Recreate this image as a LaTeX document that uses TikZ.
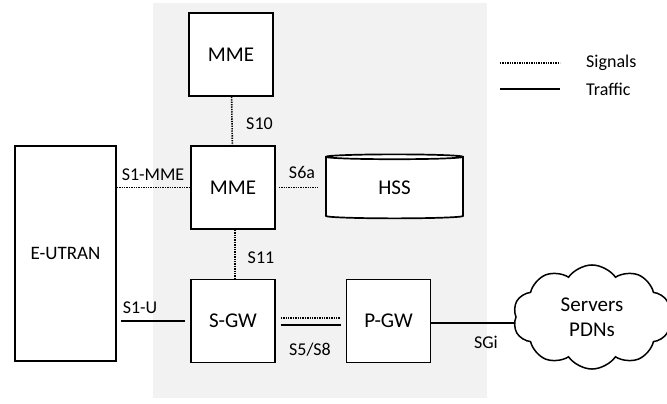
\documentclass[tikz,border=0pt]{standalone}
\usepackage{fontspec}
\setmainfont{Carlito}
\usepackage{tikz}
\usetikzlibrary{
positioning,
shapes.geometric,
shapes.symbols,
}
\definecolor{corebg}{RGB}{242,242,242}
\tikzset{
x=1pt, y=-1pt,
every node/.style={align=center, inner sep=0pt},
entity/.style={rectangle, draw, line width=1.7pt, fill=white,
  minimum width=84, minimum height=83, font=\fontsize{21}{25}\selectfont},
database/.style={cylinder, shape border rotate=90, aspect=0.15, draw,
  line width=1.7pt, fill=white, minimum width=137, minimum height=64,
  font=\fontsize{21}{25}\selectfont},
network/.style={cloud, cloud puffs=10, cloud puff arc=110, cloud ignores aspect, draw,
  line width=1.5pt, fill=white, minimum width=158, minimum height=100,
  inner ysep=14pt, font=\fontsize{21}{25}\selectfont},
iflabel/.style={font=\fontsize{18}{21}\selectfont},
signal/.style={line width=1.6pt, dash pattern=on 1.3pt off 1.1pt},
traffic/.style={line width=1.5pt},
}

\begin{document}
\begin{tikzpicture}
    \useasboundingbox (0,0) rectangle (667,404);
    % EPC core area
    \fill [corebg] (153,3) rectangle (487,398);

    \node [entity] (mmeTop) at (231,54.5) {MME};
    \node [entity] (mme) at (233,187.5) {MME};
    \node [entity] (sgw) at (233,321) {S-GW};
    \node [entity] (pgw) at (388.5,321) {P-GW};
    \node [database] (hss) at (394.5,188) {HSS};
    \node [entity, minimum width=101, minimum height=215,
           font=\fontsize{19}{23}\selectfont] (eutran) at (65.5,253.5) {E-UTRAN};
    \node [network] (pdn) at (592,317) {Servers\\PDNs};

    % interfaces
    \draw [signal] (mmeTop) -- (mme);
    \draw [signal] ([xshift=2pt]mme.south) -- ([xshift=2pt]sgw.north);
    \draw [signal] (eutran.east |- mme) -- (mme.west);
    \draw [signal, shorten <=3pt, shorten >=7pt] (mme.east) -- (hss.west |- mme);
    \draw [traffic, shorten <=4pt, shorten >=5pt] (eutran.east |- sgw) -- (sgw.west);
    \draw [signal, shorten <=5pt, shorten >=5pt] ([yshift=3pt]sgw.east) -- ([yshift=3pt]pgw.west);
    \draw [traffic, shorten <=5pt, shorten >=5pt] ([yshift=-4pt]sgw.east) -- ([yshift=-4pt]pgw.west);
    \draw [traffic] (pgw.east |- 0,323) -- (pdn.west |- 0,323);

    \node [iflabel] (lS10) at (259.5,124) {S10};
    \node [iflabel] (lS11) at (261,258) {S11};
    \node [iflabel] (lS1m) at (153,175) {S1-MME};
    \node [iflabel] (lS6a) at (302,172) {S6a};
    \node [iflabel] (lS1u) at (140,308) {S1-U};
    \node [iflabel] (lS5) at (310,350) {S5/S8};
    \node [iflabel] (lSGi) at (486,342) {SGi};

    % legend
    \coordinate (sigA) at (500,63);
    \coordinate (sigB) at (560,63);
    \coordinate (trfA) at (500,89);
    \coordinate (trfB) at (560,89);
    \draw [signal, line width=1.2pt] (sigA) -- (sigB);
    \draw [traffic] (trfA) -- (trfB);
    \node [iflabel, anchor=west, right=26pt of sigB] (lSig) {Signals};
    \node [iflabel, anchor=west, right=26pt of trfB] (lTrf) {Traffic};
\end{tikzpicture}
\end{document}
